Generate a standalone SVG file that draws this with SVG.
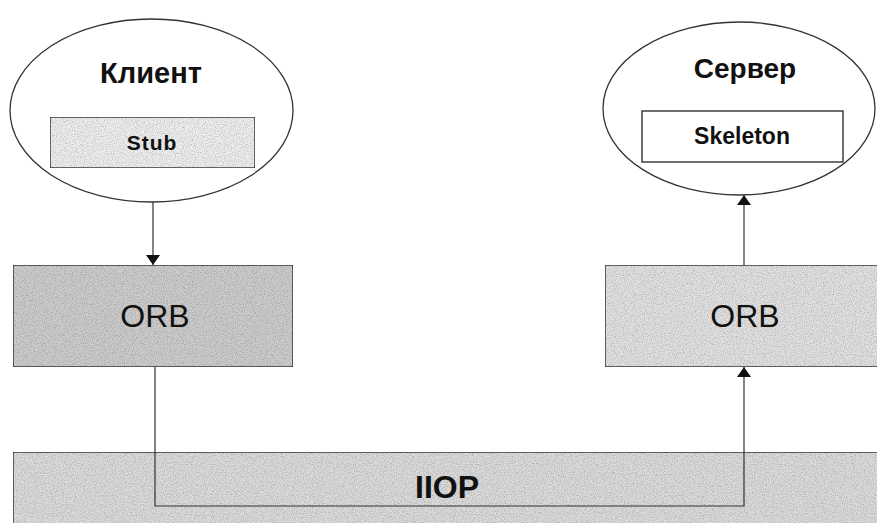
<svg xmlns="http://www.w3.org/2000/svg" width="877" height="523" viewBox="0 0 877 523">
<style>
.ell{fill:#ffffff;stroke:#333;stroke-width:1.3}
.box{stroke:#222;stroke-width:1.3}
.t{font-family:"Liberation Sans",Arial,sans-serif;fill:#111;text-anchor:middle}
.b{font-weight:bold}
.conn{fill:none;stroke:#333;stroke-width:1.2}
</style>
<defs>
<marker id="ah" viewBox="0 0 10 14" refX="10" refY="7" markerWidth="10" markerHeight="14" markerUnits="userSpaceOnUse" orient="auto">
<path d="M0,0 L10,7 L0,14 Z" fill="#111"/>
</marker>
<filter id="grain" x="0" y="0" width="100%" height="100%">
<feTurbulence type="fractalNoise" baseFrequency="0.9" numOctaves="2" seed="3" result="n"/>
<feColorMatrix in="n" type="matrix" values="0 0 0 0 0  0 0 0 0 0  0 0 0 0 0  0 0 0 -0.9 0.55" result="dots"/>
<feComposite in="dots" in2="SourceGraphic" operator="in" result="d2"/>
<feMerge><feMergeNode in="SourceGraphic"/><feMergeNode in="d2"/></feMerge>
</filter>
</defs>
<rect width="877" height="523" fill="#ffffff"/>
<g id="iiop">
<rect class="box" x="13" y="452" width="880" height="90" fill="#dcdcdc" filter="url(#grain)"/>
<text class="t b" x="447" y="498" font-size="32">IIOP</text>
</g>
<g id="client">
<ellipse class="ell" cx="151.5" cy="110.5" rx="141.5" ry="91.5"/>
<text class="t b" x="151" y="83" font-size="29">Клиент</text>
</g>
<g id="stub">
<rect class="box" x="50" y="117" width="205" height="51" fill="#efefef" filter="url(#grain)"/>
<text class="t b" x="152" y="150" font-size="21" letter-spacing="1">Stub</text>
</g>
<g id="server">
<ellipse class="ell" cx="739" cy="108.5" rx="136" ry="86.5"/>
<text class="t b" x="745" y="78" font-size="28">Сервер</text>
</g>
<g id="skeleton">
<rect class="box" x="642" y="111" width="201" height="51" fill="#ffffff"/>
<text class="t b" x="742" y="144" font-size="23">Skeleton</text>
</g>
<g id="orb-client">
<rect class="box" x="13" y="265" width="280" height="102" fill="#cdcdcd" filter="url(#grain)"/>
<text class="t" x="155" y="327" font-size="32">ORB</text>
</g>
<g id="orb-server">
<rect class="box" x="605" y="265" width="290" height="102" fill="#e2e2e2" filter="url(#grain)"/>
<text class="t" x="745" y="327" font-size="32">ORB</text>
</g>
<g id="connectors">
<line class="conn" x1="153" y1="202" x2="153" y2="265" marker-end="url(#ah)"/>
<line class="conn" x1="744" y1="265" x2="744" y2="195" marker-end="url(#ah)"/>
<polyline class="conn" points="155,367 155,506 744,506 744,367" marker-end="url(#ah)"/>
</g>
</svg>
